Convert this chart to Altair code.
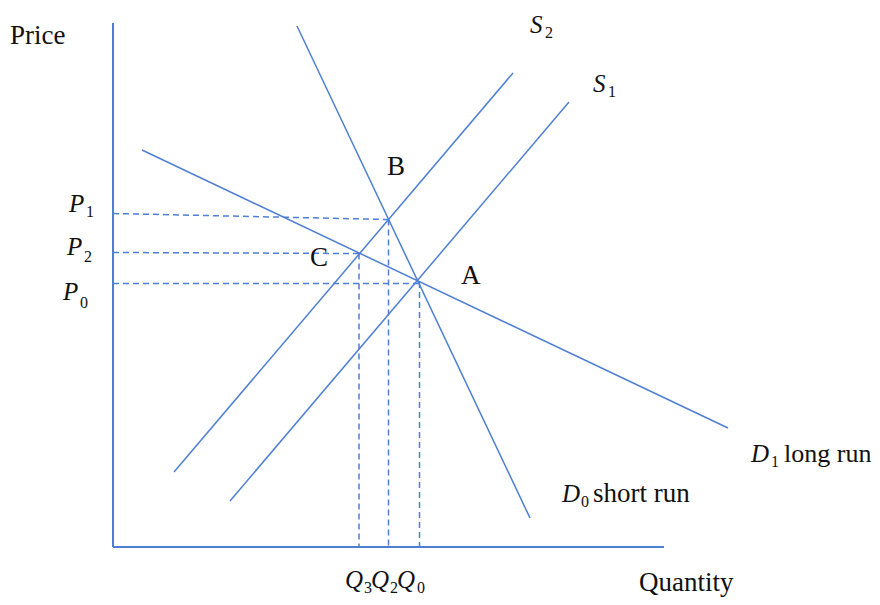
import altair as alt
import pandas as pd

# ---- data (Quantity / Price units) ----
line_name = ["D0 short run", "D1 long run", "S2", "S1"]
line_q_start = [36.8, 5.8, 12.2, 23.4]
line_p_start = [104.2, 79.4, 15.0, 9.2]
line_q_end = [83.4, 123.0, 80.0, 91.2]
line_p_end = [5.8, 23.8, 94.8, 89.0]

axis_name = ["Price axis", "Quantity axis"]
axis_q_start = [0.0, 0.0]
axis_p_start = [104.8, 0.0]
axis_q_end = [0.0, 110.2]
axis_p_end = [0.0, 0.0]

dash_name = ["P1", "P2", "P0", "Q3", "Q2", "Q0"]
dash_q_start = [0.0, 0.0, 0.0, 49.2, 55.1, 61.3]
dash_p_start = [66.7, 58.9, 52.7, 58.7, 65.5, 53.0]
dash_q_end = [55.1, 49.2, 61.3, 49.2, 55.1, 61.3]
dash_p_end = [65.5, 58.7, 52.7, 0.0, 0.0, 0.0]

word_text = ["Price", "B", "C", "A", "long run", "short run", "Quantity"]
word_q = [-20.6, 54.8, 39.4, 69.6, 134.2, 96.0, 105.2]
word_p = [100.6, 74.4, 56.2, 52.6, 17.0, 9.0, -8.8]
word_size = [27, 27, 27, 27, 26, 27, 27]

sym_text = ["S", "S", "P", "P", "P", "D", "D", "Q", "Q", "Q"]
sym_q = [83.4, 96.0, -8.8, -9.2, -10.0, 127.6, 89.8, 46.4, 51.6, 56.8]
sym_p = [102.8, 91.0, 67.0, 58.4, 49.4, 17.0, 9.0, -8.2, -8.2, -8.2]

sub_text = ["2", "1", "1", "2", "0", "1", "0", "3", "2", "0"]
sub_q = [86.4, 99.0, -5.4, -5.8, -6.6, 131.6, 93.6, 50.2, 55.4, 60.8]
sub_p = [101.8, 90.0, 66.0, 57.0, 47.8, 16.0, 8.0, -9.2, -9.2, -9.2]

# ---- tables ----
lines = pd.DataFrame({"name": line_name, "q": line_q_start, "p": line_p_start,
                      "q2": line_q_end, "p2": line_p_end})
axes = pd.DataFrame({"name": axis_name, "q": axis_q_start, "p": axis_p_start,
                     "q2": axis_q_end, "p2": axis_p_end})
dashes = pd.DataFrame({"name": dash_name, "q": dash_q_start, "p": dash_p_start,
                       "q2": dash_q_end, "p2": dash_p_end})
words = pd.DataFrame({"t": word_text, "q": word_q, "p": word_p, "s": word_size})
syms = pd.DataFrame({"t": sym_text, "q": sym_q, "p": sym_p})
subs = pd.DataFrame({"t": sub_text, "q": sub_q, "p": sub_p})

BLUE = "#4f7fd2"
FONT = "Liberation Serif"

xs = alt.Scale(domain=[-21, 151.8], nice=False, zero=False)
ys = alt.Scale(domain=[-10, 107.8], nice=False, zero=False)


def seg_enc():
    return dict(
        x=alt.X("q:Q", scale=xs, axis=None),
        y=alt.Y("p:Q", scale=ys, axis=None),
        x2="q2:Q",
        y2="p2:Q",
    )


def txt_enc():
    return dict(
        x=alt.X("q:Q", scale=xs, axis=None),
        y=alt.Y("p:Q", scale=ys, axis=None),
        text="t:N",
    )


axis_layer = alt.Chart(axes).mark_rule(color=BLUE, strokeWidth=2).encode(**seg_enc())
line_layer = alt.Chart(lines).mark_rule(color=BLUE, strokeWidth=1.5).encode(**seg_enc())
dash_layer = alt.Chart(dashes).mark_rule(color=BLUE, strokeWidth=1.5, strokeDash=[6, 4]).encode(**seg_enc())

word_layer = alt.Chart(words).mark_text(
    font=FONT, align="left", baseline="alphabetic", color="#111111"
).encode(size=alt.Size("s:Q", scale=None, legend=None), **txt_enc())
sym_layer = alt.Chart(syms).mark_text(
    font=FONT, fontSize=25, fontStyle="italic", align="left", baseline="alphabetic", color="#111111"
).encode(**txt_enc())
sub_layer = alt.Chart(subs).mark_text(
    font=FONT, fontSize=16, align="left", baseline="alphabetic", color="#111111"
).encode(**txt_enc())

chart = alt.layer(
    axis_layer, line_layer, dash_layer, word_layer, sym_layer, sub_layer
).properties(
    width=864, height=589, padding=0,
    autosize=alt.AutoSizeParams(type="none"),
).configure_view(stroke=None)

chart.save("out.html", embed_options={"renderer": "svg", "actions": False})
